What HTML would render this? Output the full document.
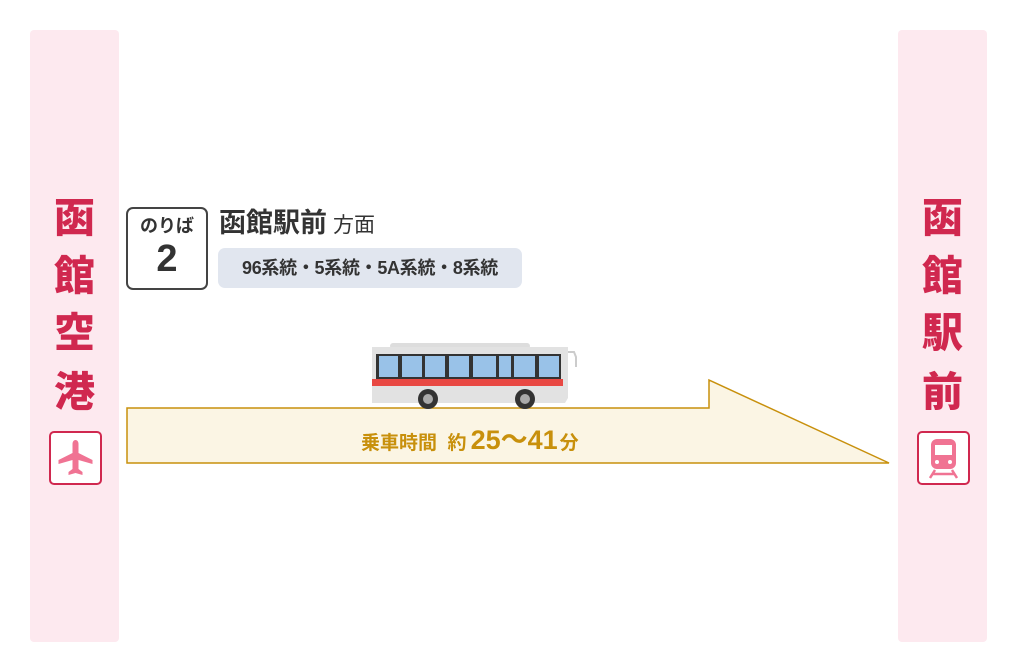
<!DOCTYPE html>
<html><head><meta charset="utf-8"><style>
body{margin:0;width:1017px;height:672px;background:#fff;position:relative;overflow:hidden;font-family:"Liberation Sans","Noto Sans CJK JP",sans-serif}
.col{position:absolute;top:30px;width:89px;height:612px;background:#fde9ef;border-radius:4px}
.ch{position:absolute;left:0;width:89px;text-align:center;font-size:41px;font-weight:900;color:#d0284f;line-height:44px}
.ic{position:absolute;width:49px;height:50px;border:2px solid #d0284f;border-radius:5px;background:#fff}
.abs{position:absolute}
</style></head><body>
<div class="col" style="left:30px">
 <div class="ch" style="top:166px">函</div>
 <div class="ch" style="top:224px">館</div>
 <div class="ch" style="top:281px">空</div>
 <div class="ch" style="top:340px">港</div>
</div>
<div class="ic" style="left:49px;top:431px"><svg width="49" height="50" viewBox="0 0 49 50"><path d="M24.5 7c2 0 3 2 3 4v9l14 7v4l-14-4v9l4 3v3l-7-2-7 2v-3l4-3v-9l-14 4v-4l14-7v-9c0-2 1-4 3-4z" fill="#f07393"/></svg></div>
<div class="col" style="left:898px">
 <div class="ch" style="top:166px">函</div>
 <div class="ch" style="top:224px">館</div>
 <div class="ch" style="top:281px">駅</div>
 <div class="ch" style="top:340px">前</div>
</div>
<div class="ic" style="left:917px;top:431px"><svg width="49" height="50" viewBox="0 0 49 50"><rect x="12" y="6" width="25" height="30" rx="6" fill="#f07393"/><rect x="16" y="12" width="17" height="10" fill="#fff"/><circle cx="18" cy="29" r="2" fill="#fff"/><circle cx="31" cy="29" r="2" fill="#fff"/><path d="M16 37l-5 8M33 37l5 8M14 41h21" stroke="#f07393" stroke-width="2.5" fill="none"/></svg></div>

<div class="abs" style="left:126px;top:207px;width:78px;height:79px;border:2px solid #444;border-radius:7px;text-align:center;color:#333">
 <div style="font-size:18px;font-weight:700;margin-top:6px;line-height:22px">のりば</div>
 <div style="font-size:38px;font-weight:700;line-height:44px">2</div>
</div>
<div class="abs" style="left:219px;top:205px;font-size:27px;font-weight:700;color:#333;line-height:36px">函館駅前<span style="font-size:21px;font-weight:400;margin-left:6px">方面</span></div>
<div class="abs" style="left:218px;top:248px;width:304px;height:40px;background:#e1e6ef;border-radius:7px;font-size:18px;font-weight:700;color:#333;line-height:40px;text-align:center;white-space:nowrap;letter-spacing:-0.3px">96系統・5系統・5A系統・8系統</div>

<svg class="abs" style="left:0;top:0" width="1017" height="672">
 <path d="M127 408H709V380L889 463H127Z" fill="#fbf5e4" stroke="#c8900c" stroke-width="1.5"/>
 <g>
  <rect x="390" y="343" width="140" height="6" rx="3" fill="#ddd"/>
  <path d="M372 347H568V398L565 403H372Z" fill="#e2e2e2"/>
  <rect x="376" y="354" width="185" height="25" fill="#333"/>
  <g fill="#99c2e8"><rect x="379" y="356" width="19" height="21"/><rect x="402" y="356" width="20" height="21"/><rect x="425" y="356" width="20" height="21"/><rect x="449" y="356" width="20" height="21"/><rect x="473" y="356" width="23" height="21"/><rect x="499" y="356" width="12" height="21"/><rect x="514" y="356" width="21" height="21"/><rect x="539" y="356" width="20" height="21"/></g>
  <rect x="372" y="379" width="191" height="7" fill="#e84843"/>
  <path d="M568 352h6l2 5v10" stroke="#ccc" stroke-width="2" fill="none"/>
  <circle cx="428" cy="399" r="10" fill="#333"/><circle cx="428" cy="399" r="5" fill="#aaa"/>
  <circle cx="525" cy="399" r="10" fill="#333"/><circle cx="525" cy="399" r="5" fill="#aaa"/>
 </g>
</svg>
<div class="abs" style="left:361px;top:423px;color:#c8900c;font-weight:700;font-size:19px;white-space:nowrap;line-height:34px">乗車時間&nbsp;&nbsp;約<span style="font-size:27px;margin-left:4px;margin-right:2px">25～41</span>分</div>
</body></html>
